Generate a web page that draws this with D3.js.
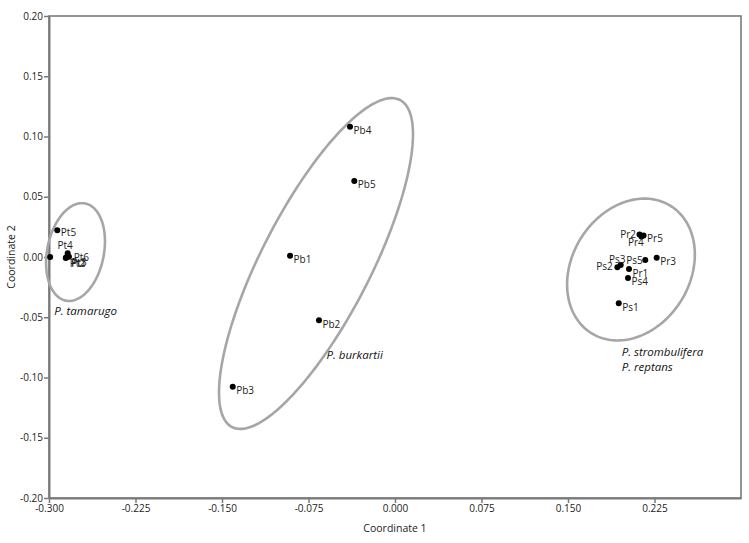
<!DOCTYPE html>
<html><head><meta charset="utf-8">
<script src="https://cdn.jsdelivr.net/npm/d3@7"></script>
<style>
body{margin:0;background:#fff;}
text{font-family:"Open Sans","Noto Sans",sans-serif;}
</style></head>
<body><svg id="c" width="749" height="543"></svg>
<script>
// ---- data ----
const names = ["Pt1","Pt2","Pt3","Pt4","Pt5","Pt6","Pb1","Pb2","Pb3","Pb4","Pb5","Pr1","Pr2","Pr3","Pr4","Pr5","Ps1","Ps2","Ps3","Ps4","Ps5"];
const coord1 = [-0.299,-0.2855,-0.2850,-0.2827,-0.2928,-0.2838,-0.0910,-0.0659,-0.1407,-0.0390,-0.0353,0.2029,0.2120,0.2269,0.2137,0.2155,0.1940,0.1928,0.1957,0.2020,0.2170];
const coord2 = [0.0000,-0.0008,-0.0003,0.0003,0.0221,0.0031,0.0011,-0.0525,-0.1076,0.1081,0.0631,-0.0100,0.0187,-0.0006,0.0170,0.0178,-0.0384,-0.0085,-0.0066,-0.0174,-0.0025];
const xTicks = [-0.300,-0.225,-0.150,-0.075,0.000,0.075,0.150,0.225];
const yTicks = [-0.20,-0.15,-0.10,-0.05,0.00,0.05,0.10,0.15,0.20];
// ellipses: centre, conjugate half-axis vectors (data units)
const ellCx = [-0.2770,-0.0685,0.2046];
const ellCy = [0.0041,-0.0054,-0.0104];
const ellUx = [0.00841,0.0728,0.0344];
const ellUy = [0.0403,0.1357,0.0528];
const ellVx = [0.0241,0.0421,0.0434];
const ellVy = [-0.00465,-0.0207,-0.0260];
const groupLabels = [["P. tamarugo"],["P. burkartii"],["P. strombulifera","P. reptans"]];
const groupLabelX = [-0.2955,-0.0595,0.1965];
const groupLabelY = [-0.0480,-0.0850,-0.0820];

// label placement (px offsets from point)
const labelPos = {
  Pt1:{dx:21,dy:6}, Pt2:{dx:4,dy:5.5}, Pt3:{dx:5,dy:5}, Pt4:{dx:-11.5,dy:-11}, Pt5:{dx:3.5,dy:2},
  Pt6:{dx:6,dy:4},
  Pr2:{dx:-3.5,dy:0,a:"end"}, Pr5:{dx:3.5,dy:2.5}, Pr4:{dx:-13.5,dy:6},
  Ps5:{dx:-2.5,dy:0.7,a:"end"}, Ps3:{dx:-11.7,dy:-5}, Ps2:{dx:-4.6,dy:-0.6,a:"end"}
};

const svg = d3.select("#c");
svg.append("rect").attr("width",749).attr("height",543).attr("fill","#fff");
const x = d3.scaleLinear().domain([-0.3,0.3]).range([49,741]);
const y = d3.scaleLinear().domain([-0.2,0.2]).range([498,16]);
const axisColor = "#7a7a7a";

// frame
svg.append("rect").attr("x",x(-0.3)).attr("y",y(0.2))
  .attr("width",x(0.3)-x(-0.3)).attr("height",y(-0.2)-y(0.2))
  .attr("fill","none").attr("stroke",axisColor).attr("stroke-width",1.6);

const fmtX = d => (Math.abs(d)<1e-9?0:d).toFixed(3);
const fmtY = d => (Math.abs(d)<1e-9?0:d).toFixed(2);

const gx = svg.append("g").attr("transform",`translate(0,${y(-0.2)})`)
  .call(d3.axisBottom(x).tickValues(xTicks).tickFormat(fmtX).tickSize(5).tickSizeOuter(0));
const gy = svg.append("g").attr("transform",`translate(${x(-0.3)},0)`)
  .call(d3.axisLeft(y).tickValues(yTicks).tickFormat(fmtY).tickSize(5).tickSizeOuter(0));
[gx,gy].forEach(g=>{
  g.select(".domain").attr("stroke",axisColor).attr("stroke-width",2);
  g.selectAll(".tick line").attr("stroke",axisColor).attr("stroke-width",1.5);
  g.selectAll(".tick text").attr("fill","#222").style("font-size","10px").style("font-family","'Open Sans',sans-serif");
});
gx.selectAll(".tick text").attr("dy","0.9em").attr("y",5);
gy.selectAll(".tick text").attr("x",-6);

svg.append("text").attr("x",x(0)).attr("y",532).attr("text-anchor","middle")
  .style("font-size","10.5px").attr("fill","#222").text("Coordinate 1");
svg.append("text").attr("transform",`translate(15,${y(0)}) rotate(-90)`).attr("text-anchor","middle")
  .style("font-size","10.5px").attr("fill","#222").text("Coordinate 2");

// ellipses
const line = d3.line().x(d=>x(d[0])).y(d=>y(d[1])).curve(d3.curveLinearClosed);
ellCx.forEach((cx,i)=>{
  const pts = d3.range(0,360,2).map(t=>{
    const r = t*Math.PI/180;
    return [cx + ellUx[i]*Math.cos(r) + ellVx[i]*Math.sin(r), ellCy[i] + ellUy[i]*Math.cos(r) + ellVy[i]*Math.sin(r)];
  });
  svg.append("path").attr("d",line(pts)).attr("fill","none").attr("stroke","#a6a6a6").attr("stroke-width",2.6);
});

// group labels
groupLabels.forEach((lines,i)=>{
  lines.forEach((s,j)=>{
    svg.append("text").attr("x",x(groupLabelX[i])).attr("y",y(groupLabelY[i])+j*15)
      .style("font-size","11.5px").style("font-style","italic").attr("fill","#111").text(s);
  });
});

// points
const pts = names.map((n,i)=>({n,cx:coord1[i],cy:coord2[i]}));
svg.append("g").selectAll("circle").data(pts).join("circle")
  .attr("cx",d=>x(d.cx)).attr("cy",d=>y(d.cy)).attr("r",3).attr("fill","#000");
svg.append("g").selectAll("text").data(pts).join("text")
  .attr("x",d=>x(d.cx)+(labelPos[d.n]?labelPos[d.n].dx:3.5))
  .attr("y",d=>y(d.cy)+(labelPos[d.n]?labelPos[d.n].dy:4))
  .attr("dy","0.35em")
  .attr("text-anchor",d=>labelPos[d.n]&&labelPos[d.n].a?labelPos[d.n].a:"start")
  .style("font-size","10px").attr("fill","#222").text(d=>d.n);
</script></body></html>
